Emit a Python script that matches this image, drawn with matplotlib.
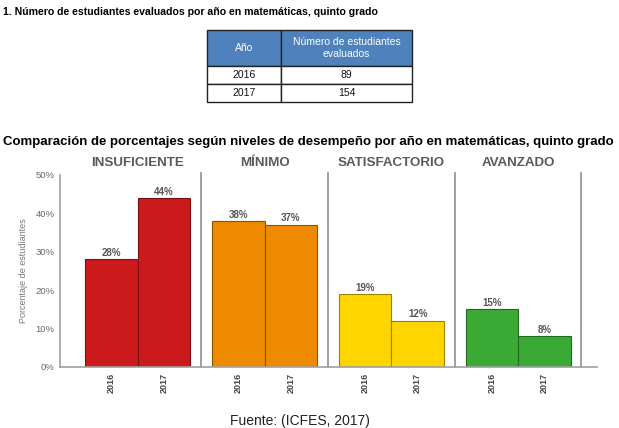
import numpy as np
import matplotlib.pyplot as plt

plt.rcParams['font.family'] = ['Liberation Sans', 'DejaVu Sans']

# data
table_years = ["2016", "2017"]
table_counts = [89, 154]
levels = ["INSUFICIENTE", "MÍNIMO", "SATISFACTORIO", "AVANZADO"]
years = ["2016", "2017"]
pct_2016 = [28, 38, 19, 15]
pct_2017 = [44, 37, 12, 8]
level_colors = ["#cc1a1c", "#ee8a00", "#ffd500", "#3aaa35"]
edge_colors = ["#7a1010", "#8a5200", "#9a8200", "#1f6a1c"]

W, H = 619, 428
fig = plt.figure(figsize=(W / 100, H / 100), dpi=100)


def fx(px):
    return px / W


def fy(py):
    return 1 - py / H


# heading 1 and table
fig.text(fx(3), fy(12), "1. Número de estudiantes evaluados por año en matemáticas, quinto grado",
         fontsize=7.6, fontweight='bold', va='center', ha='left')

tax = fig.add_axes([fx(207), fy(102), fx(412 - 207), (102 - 30) / H])
tax.axis('off')
cell_text = [[y, str(c)] for y, c in zip(table_years, table_counts)]
tbl = tax.table(cellText=cell_text, colLabels=["Año", "Número de estudiantes\nevaluados"],
                colWidths=[74 / 205, 131 / 205], cellLoc='center', bbox=[0, 0, 1, 1])
tbl.auto_set_font_size(False)
for (r, c), cell in tbl.get_celld().items():
    cell.set_edgecolor("#222222")
    cell.set_linewidth(1.0)
    cell.get_text().set_fontsize(7.5)
    if r == 0:
        cell.set_height(2.0)
        cell.set_facecolor("#4f81bd")
        cell.get_text().set_color("white")
    else:
        cell.set_height(1.0)
        cell.get_text().set_color("#111111")

# chart title
fig.text(fx(3), fy(142), "Comparación de porcentajes según niveles de desempeño por año en matemáticas, quinto grado",
         fontsize=9.5, fontweight='bold', va='center', ha='left')

# bar chart
ax = fig.add_axes([fx(60), fy(367), fx(597 - 60), (367 - 175) / H])
spacing = 2.41
centers = np.arange(len(levels)) * spacing
bw = 1.0
x16 = centers - bw / 2
x17 = centers + bw / 2
ax.bar(x16, pct_2016, width=bw, color=level_colors, edgecolor=edge_colors, linewidth=0.8)
ax.bar(x17, pct_2017, width=bw, color=level_colors, edgecolor=edge_colors, linewidth=0.8)

for xs, vals in ((x16, pct_2016), (x17, pct_2017)):
    for x, v in zip(xs, vals):
        ax.text(x, v + 0.4, f"{v}%", ha='center', va='bottom', fontsize=7,
                fontweight='bold', color='#555555')

for c in centers:
    ax.axvline(c + spacing / 2, ymin=0, ymax=1.01, color='#a0a0a0', lw=1.4, clip_on=False)

ax.set_xlim(centers[0] - 1.48, centers[-1] + 1.5)
ax.set_ylim(0, 50)
ax.set_yticks(np.arange(0, 51, 10))
ax.set_yticklabels([f"{t}%" for t in range(0, 51, 10)], fontsize=6.8, color='#666666')
ax.set_xticks(np.concatenate([x16, x17]))
ax.set_xticklabels(years[:1] * len(levels) + years[1:] * len(levels), rotation=90,
                   fontsize=6.5, fontweight='bold', color='#444444')
ax.tick_params(axis='both', length=0, pad=4)
ax.set_ylabel("Porcentaje de estudiantes", fontsize=6.5, color='#777777', labelpad=5)

for s in ('top', 'right'):
    ax.spines[s].set_visible(False)
ax.spines['left'].set_color('#a0a0a0')
ax.spines['bottom'].set_color('#a0a0a0')
ax.spines['left'].set_linewidth(1.2)
ax.spines['bottom'].set_linewidth(1.2)

# level headers above each group
head_y = 1.0 + (175 - 163) / (367 - 175)
for c, name in zip(centers, levels):
    ax.text(c, head_y, name, transform=ax.get_xaxis_transform(), ha='center', va='center',
            fontsize=9.6, fontweight='bold', color='#5a5a5a')

# footer at the bottom edge
fig.text(0.485, fy(425), "Fuente: (ICFES, 2017)", ha='center', va='baseline', fontsize=10, color='#222222')

fig.savefig("out.png", dpi=100)
